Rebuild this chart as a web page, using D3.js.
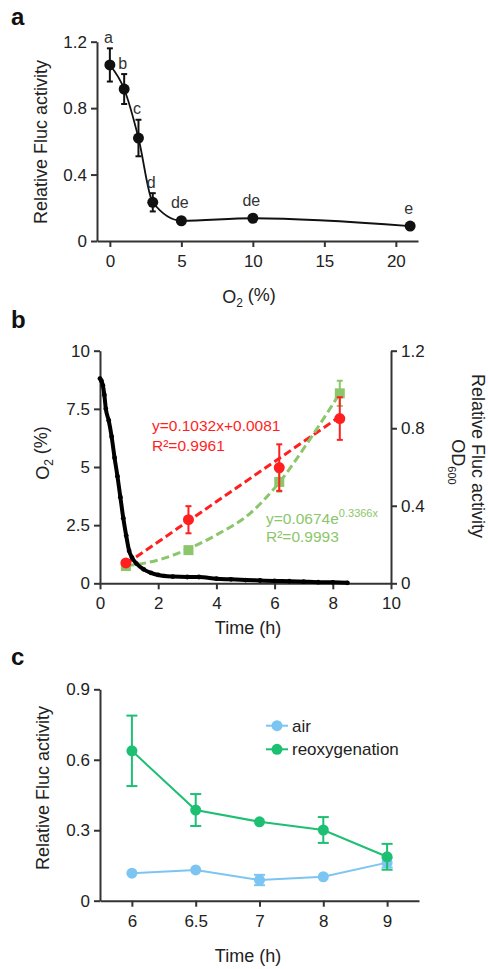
<!DOCTYPE html>
<html>
<head>
<meta charset="utf-8">
<script src="https://cdn.jsdelivr.net/npm/d3@7"></script>
<style>
  body { margin: 0; background: #fff; }
  text { font-family: "Liberation Sans", Arial, sans-serif; fill: #222; }
  .axis path, .axis line { stroke: #333; stroke-width: 2; }
  .axis text { font-size: 17px; fill: #222; font-family: "Liberation Sans", Arial, sans-serif; }
</style>
</head>
<body>
<div id="fig"></div>
<script>
// ---- panel a : Fluc activity vs O2 level
const o2Levels = [0, 1, 2, 3, 5, 10, 21];
const flucA = [1.06, 0.915, 0.62, 0.233, 0.122, 0.137, 0.09];
const flucAErr = [0.10, 0.09, 0.11, 0.055, 0, 0, 0];
const sigLetters = ["a", "b", "c", "d", "de", "de", "e"];

// ---- panel b : O2 trace and Fluc / OD600 over time
const o2Time = [0, 0.05, 0.1, 0.15, 0.2, 0.3, 0.4, 0.5, 0.6, 0.7, 0.8, 0.9, 1.0, 1.1, 1.25, 1.5,
                1.75, 2.0, 2.5, 3.0, 3.4, 4.0, 4.5, 5.0, 5.5, 6.0, 6.5, 7.0, 7.5, 8.0, 8.5];
const o2Trace = [8.8, 8.7, 8.5, 8.1, 7.5, 7.0, 6.3, 5.4, 4.6, 3.7, 2.8, 2.05, 1.4, 1.1, 0.85, 0.6,
                 0.45, 0.36, 0.29, 0.27, 0.27, 0.2, 0.17, 0.14, 0.12, 0.1, 0.09, 0.07, 0.05, 0.04, 0.02];
const sampleTime = [0.89, 3.04, 6.16, 8.24];
const flucB = [0.105, 0.328, 0.597, 0.85];
const flucBErr = [0.01, 0.07, 0.12, 0.11];
const od600 = [0.089, 0.171, 0.523, 0.98];
const od600Err = [0.01, 0.01, 0.05, 0.065];
const linFitT = [0.9, 8.24];
const linFitY = [0.1, 0.86];
const expFitT = [0.9, 2, 3, 4, 5.15, 6.16, 7.2, 8.24];
const expFitY = [0.09, 0.12, 0.175, 0.25, 0.36, 0.52, 0.74, 0.98];

// ---- panel c : air vs reoxygenation
const timePoints = ["6", "6.5", "7", "8", "9"];
const airVals = [0.117, 0.131, 0.088, 0.102, 0.162];
const airErr = [0, 0, 0.022, 0, 0.02];
const reoxVals = [0.638, 0.386, 0.336, 0.301, 0.187];
const reoxErr = [0.15, 0.068, 0, 0.055, 0.055];

const RED = "#ff1f1f", LGREEN = "#8cc66a", BLUE = "#7cc5f2", GREEN = "#1dbf73";

const svg = d3.select("#fig").append("svg")
    .attr("width", 488)
    .attr("height", 969);

function fmtTick(d) { return d === 0 ? "0" : String(d); }

// vertical error bars with caps
function errBars(g, xs, ys, errs, x, y, color, cap) {
  xs.forEach((t, i) => {
    if (!errs[i]) return;
    const px = x(t);
    const y1 = y(ys[i] + errs[i]), y2 = y(ys[i] - errs[i]);
    g.append("line").attr("x1", px).attr("x2", px).attr("y1", y1).attr("y2", y2)
      .attr("stroke", color).attr("stroke-width", 2);
    [y1, y2].forEach(yy => g.append("line")
      .attr("x1", px - cap / 2).attr("x2", px + cap / 2).attr("y1", yy).attr("y2", yy)
      .attr("stroke", color).attr("stroke-width", 2));
  });
}

function panelLetter(t, x, y) {
  svg.append("text").attr("x", x).attr("y", y).text(t)
    .style("font-size", "24px").style("font-weight", "bold").style("fill", "#111");
}

// ================= panel a =================
{
  const x = d3.scaleLinear().domain([-0.9, 21.55]).range([97, 418]);
  const y = d3.scaleLinear().domain([0, 1.2]).range([241, 41.7]);
  const g = svg.append("g");

  g.append("g").attr("class", "axis").attr("transform", "translate(0,241)")
    .call(d3.axisBottom(x).tickValues([0, 5, 10, 15, 20]).tickSize(6).tickPadding(8).tickSizeOuter(0));
  g.append("g").attr("class", "axis").attr("transform", "translate(97,0)")
    .call(d3.axisLeft(y).tickValues([0, 0.4, 0.8, 1.2]).tickSize(6).tickPadding(4).tickSizeOuter(0)
      .tickFormat(d => d === 0 ? "0" : d3.format(".1f")(d)));

  const pts = o2Levels.map((v, i) => [v, flucA[i]]);
  g.append("path").datum(pts)
    .attr("fill", "none").attr("stroke", "#111").attr("stroke-width", 1.8)
    .attr("d", d3.line().x(d => x(d[0])).y(d => y(d[1])).curve(d3.curveMonotoneX));

  errBars(g, o2Levels, flucA, flucAErr, x, y, "#111", 6);

  g.selectAll("circle.pa").data(pts).enter().append("circle")
    .attr("cx", d => x(d[0])).attr("cy", d => y(d[1])).attr("r", 5.5).attr("fill", "#111");

  g.selectAll("text.sig").data(sigLetters).enter().append("text")
    .attr("x", (d, i) => x(o2Levels[i]) - 1.5)
    .attr("y", (d, i) => y(flucA[i] + flucAErr[i]) - (flucAErr[i] ? 11 : 18))
    .attr("dy", "0.35em").attr("text-anchor", "middle")
    .style("font-size", "16px").style("fill", "#333").text(d => d);

  const xt = g.append("text").attr("x", 249).attr("y", 303).attr("text-anchor", "middle")
    .style("font-size", "18px");
  xt.append("tspan").text("O");
  xt.append("tspan").attr("dy", "0.3em").style("font-size", "12px").text("2");
  xt.append("tspan").attr("dy", "-0.3em").text(" (%)");

  g.append("text").attr("transform", "translate(47,142) rotate(-90)")
    .attr("text-anchor", "middle").style("font-size", "18px").text("Relative Fluc activity");

  panelLetter("a", 11, 25);
}

// ================= panel b =================
{
  const x = d3.scaleLinear().domain([0, 10]).range([100, 391]);
  const yL = d3.scaleLinear().domain([0, 10]).range([583.3, 350.7]);
  const yR = d3.scaleLinear().domain([0, 1.2]).range([583.3, 350.7]);
  const g = svg.append("g");

  g.append("g").attr("class", "axis").attr("transform", "translate(0,583.3)")
    .call(d3.axisBottom(x).tickValues([0, 2, 4, 6, 8, 10]).tickSize(6).tickPadding(8).tickSizeOuter(0));
  g.append("g").attr("class", "axis").attr("transform", "translate(100,0)")
    .call(d3.axisLeft(yL).tickValues([0, 2.5, 5, 7.5, 10]).tickSize(6).tickPadding(4).tickSizeOuter(0)
      .tickFormat(fmtTick));
  g.append("g").attr("class", "axis").attr("transform", "translate(391,0)")
    .call(d3.axisRight(yR).tickValues([0, 0.4, 0.8, 1.2]).tickSize(6).tickPadding(4).tickSizeOuter(0)
      .tickFormat(d => d === 0 ? "0" : d3.format(".1f")(d)));

  // dashed fit lines
  g.append("path").datum(linFitT.map((t, i) => [t, linFitY[i]]))
    .attr("fill", "none").attr("stroke", RED).attr("stroke-width", 3).attr("stroke-dasharray", "8,4")
    .attr("d", d3.line().x(d => x(d[0])).y(d => yR(d[1])));
  g.append("path").datum(expFitT.map((t, i) => [t, expFitY[i]]))
    .attr("fill", "none").attr("stroke", LGREEN).attr("stroke-width", 3).attr("stroke-dasharray", "8,4")
    .attr("d", d3.line().x(d => x(d[0])).y(d => yR(d[1])).curve(d3.curveMonotoneX));

  // O2 trace
  const trace = o2Time.map((t, i) => [t, o2Trace[i]]);
  g.append("path").datum(trace)
    .attr("fill", "none").attr("stroke", "#000").attr("stroke-width", 4).attr("stroke-linecap", "round")
    .attr("d", d3.line().x(d => x(d[0])).y(d => yL(d[1])).curve(d3.curveMonotoneX));
  g.selectAll("circle.tr").data(trace).enter().append("circle")
    .attr("cx", d => x(d[0])).attr("cy", d => yL(d[1])).attr("r", 2.4).attr("fill", "#000");

  errBars(g, sampleTime, od600, od600Err, x, yR, LGREEN, 6);
  g.selectAll("rect.od").data(sampleTime).enter().append("rect")
    .attr("x", d => x(d) - 5).attr("y", (d, i) => yR(od600[i]) - 5)
    .attr("width", 10).attr("height", 10).attr("fill", LGREEN);

  errBars(g, sampleTime, flucB, flucBErr, x, yR, RED, 6);
  g.selectAll("circle.fl").data(sampleTime).enter().append("circle")
    .attr("cx", d => x(d)).attr("cy", (d, i) => yR(flucB[i])).attr("r", 5.5).attr("fill", RED);

  // fit equations
  g.append("text").attr("x", 152).attr("y", 431).style("font-size", "15.5px").style("fill", RED)
    .text("y=0.1032x+0.0081");
  g.append("text").attr("x", 152).attr("y", 451).style("font-size", "15.5px").style("fill", RED)
    .text("R²=0.9961");
  const eq = g.append("text").attr("x", 266).attr("y", 524).style("font-size", "15.5px").style("fill", LGREEN);
  eq.append("tspan").text("y=0.0674e");
  eq.append("tspan").attr("dy", "-0.6em").style("font-size", "11px").style("fill", LGREEN).text("0.3366x");
  g.append("text").attr("x", 266).attr("y", 542).style("font-size", "15.5px").style("fill", LGREEN)
    .text("R²=0.9993");

  // axis titles
  g.append("text").attr("x", 248).attr("y", 634).attr("text-anchor", "middle")
    .style("font-size", "18px").text("Time (h)");
  const yl = g.append("text").attr("transform", "translate(49,453) rotate(-90)")
    .attr("text-anchor", "middle").style("font-size", "18px");
  yl.append("tspan").text("O");
  yl.append("tspan").attr("dy", "0.3em").style("font-size", "12px").text("2");
  yl.append("tspan").attr("dy", "-0.3em").text(" (%)");

  g.append("text").attr("transform", "translate(472,456) rotate(90)")
    .attr("text-anchor", "middle").style("font-size", "18px").text("Relative Fluc activity");
  const od = g.append("text").attr("transform", "translate(452,462) rotate(90)")
    .attr("text-anchor", "middle").style("font-size", "18px");
  od.append("tspan").text("OD");
  od.append("tspan").attr("dy", "0.35em").style("font-size", "11px").text("600");

  panelLetter("b", 11, 328);
}

// ================= panel c =================
{
  const x = d3.scalePoint().domain(timePoints).range([100, 419]).padding(0.5);
  const y = d3.scaleLinear().domain([0, 0.9]).range([900.7, 689.3]);
  const g = svg.append("g");

  g.append("g").attr("class", "axis").attr("transform", "translate(0,900.7)")
    .call(d3.axisBottom(x).tickSize(6).tickPadding(8).tickSizeOuter(0));
  g.append("g").attr("class", "axis").attr("transform", "translate(100,0)")
    .call(d3.axisLeft(y).tickValues([0, 0.3, 0.6, 0.9]).tickSize(6).tickPadding(4).tickSizeOuter(0)
      .tickFormat(d => d === 0 ? "0" : d3.format(".1f")(d)));

  const series = [
    {vals: airVals, err: airErr, color: BLUE},
    {vals: reoxVals, err: reoxErr, color: GREEN}
  ];
  series.forEach(s => {
    const pts = timePoints.map((t, i) => [t, s.vals[i]]);
    g.append("path").datum(pts)
      .attr("fill", "none").attr("stroke", s.color).attr("stroke-width", 2)
      .attr("d", d3.line().x(d => x(d[0])).y(d => y(d[1])));
    errBars(g, timePoints, s.vals, s.err, x, y, s.color, 11);
    g.selectAll(null).data(pts).enter().append("circle")
      .attr("cx", d => x(d[0])).attr("cy", d => y(d[1])).attr("r", 5.5).attr("fill", s.color);
  });

  // legend
  const legend = [{name: "air", color: BLUE}, {name: "reoxygenation", color: GREEN}];
  legend.forEach((l, i) => {
    const ly = 725.7 + i * 23.6;
    g.append("line").attr("x1", 266).attr("x2", 288).attr("y1", ly).attr("y2", ly)
      .attr("stroke", l.color).attr("stroke-width", 2);
    g.append("circle").attr("cx", 277).attr("cy", ly).attr("r", 5.5).attr("fill", l.color);
    g.append("text").attr("x", 292).attr("y", ly).attr("dy", "0.35em")
      .style("font-size", "17px").text(l.name);
  });

  g.append("text").attr("x", 248).attr("y", 962).attr("text-anchor", "middle")
    .style("font-size", "18px").text("Time (h)");
  g.append("text").attr("transform", "translate(49,788) rotate(-90)")
    .attr("text-anchor", "middle").style("font-size", "18px").text("Relative Fluc activity");

  panelLetter("c", 11, 665);
}
</script>
</body>
</html>
